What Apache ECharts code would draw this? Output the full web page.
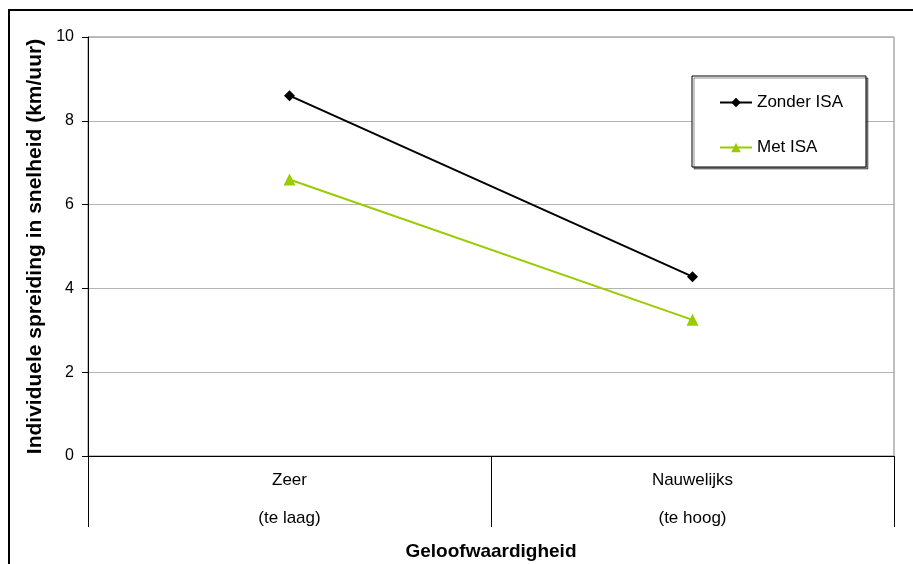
<!DOCTYPE html>
<html>
<head>
<meta charset="utf-8">
<script src="https://cdn.jsdelivr.net/npm/echarts@6/dist/echarts.min.js"></script>
<style>
  html, body { margin: 0; padding: 0; background: #fff; }
  #chart { width: 913px; height: 564px; }
</style>
</head>
<body>
<div id="chart"></div>
<script>
// Categories on the x axis (credibility level)
const categories = ['Zeer\n(te laag)', 'Nauwelijks\n(te hoog)'];
// Individual speed spread (km/h) per condition
const zonderISA = [8.6, 4.28];
const metISA = [6.6, 3.25];
// Y-axis range and step
const yMin = 0, yMax = 10, yStep = 2;

const font = 'Liberation Sans, Arial, sans-serif';
const chart = echarts.init(document.getElementById('chart'), null, { renderer: 'canvas' });

chart.setOption({
  animation: false,
  backgroundColor: '#fff',
  textStyle: { fontFamily: font },
  graphic: [{
    type: 'rect',
    shape: { x: 9, y: 10, width: 1000, height: 1000 },
    style: { fill: 'none', stroke: '#000', lineWidth: 2 },
    silent: true
  }],
  grid: {
    left: 88, right: 19, top: 37, bottom: 108,
    containLabel: false,
    outerBoundsMode: 'none',
    show: true, borderColor: '#808080', borderWidth: 1, backgroundColor: 'transparent'
  },
  legend: {
    orient: 'vertical',
    left: 692, top: 76,
    padding: [18, 23, 11, 27],
    itemGap: 28,
    itemWidth: 32, itemHeight: 12,
    backgroundColor: '#fff',
    borderColor: '#000', borderWidth: 1,
    shadowColor: 'rgba(0,0,0,0.45)', shadowOffsetX: 2, shadowOffsetY: 2, shadowBlur: 0,
    textStyle: { fontFamily: font, fontSize: 17, color: '#000', padding: [0, 0, 0, 0] },
    data: ['Zonder ISA', 'Met ISA']
  },
  xAxis: {
    type: 'category',
    data: categories,
    boundaryGap: true,
    name: 'Geloofwaardigheid',
    nameLocation: 'middle',
    nameGap: 78,
    nameTextStyle: { fontFamily: font, fontSize: 19, fontWeight: 'bold', color: '#000' },
    axisLine: { lineStyle: { color: '#000', width: 1 } },
    axisTick: { show: true, length: 71, lineStyle: { color: '#000' } },
    axisLabel: { fontFamily: font, fontSize: 17, color: '#000', lineHeight: 38, margin: 5 },
    splitLine: { show: false }
  },
  yAxis: {
    type: 'value',
    min: yMin, max: yMax, interval: yStep,
    name: 'Individuele spreiding in snelheid (km/uur)',
    nameLocation: 'middle',
    nameGap: 42,
    nameTextStyle: { fontFamily: font, fontSize: 21, fontWeight: 'bold', color: '#000' },
    axisLine: { show: true, lineStyle: { color: '#000', width: 1 } },
    axisTick: { show: true, length: 6, lineStyle: { color: '#000' } },
    axisLabel: { fontFamily: font, fontSize: 16, color: '#000', margin: 14 },
    splitLine: { show: true, lineStyle: { color: '#b4b4b4', width: 1 } }
  },
  series: [
    {
      name: 'Zonder ISA',
      type: 'line',
      data: zonderISA,
      symbol: 'diamond', symbolSize: 11,
      lineStyle: { color: '#000', width: 2 },
      itemStyle: { color: '#000' }
    },
    {
      name: 'Met ISA',
      type: 'line',
      data: metISA,
      symbol: 'triangle', symbolSize: 12,
      lineStyle: { color: '#99cc00', width: 2 },
      itemStyle: { color: '#99cc00' }
    }
  ]
});
</script>
</body>
</html>
